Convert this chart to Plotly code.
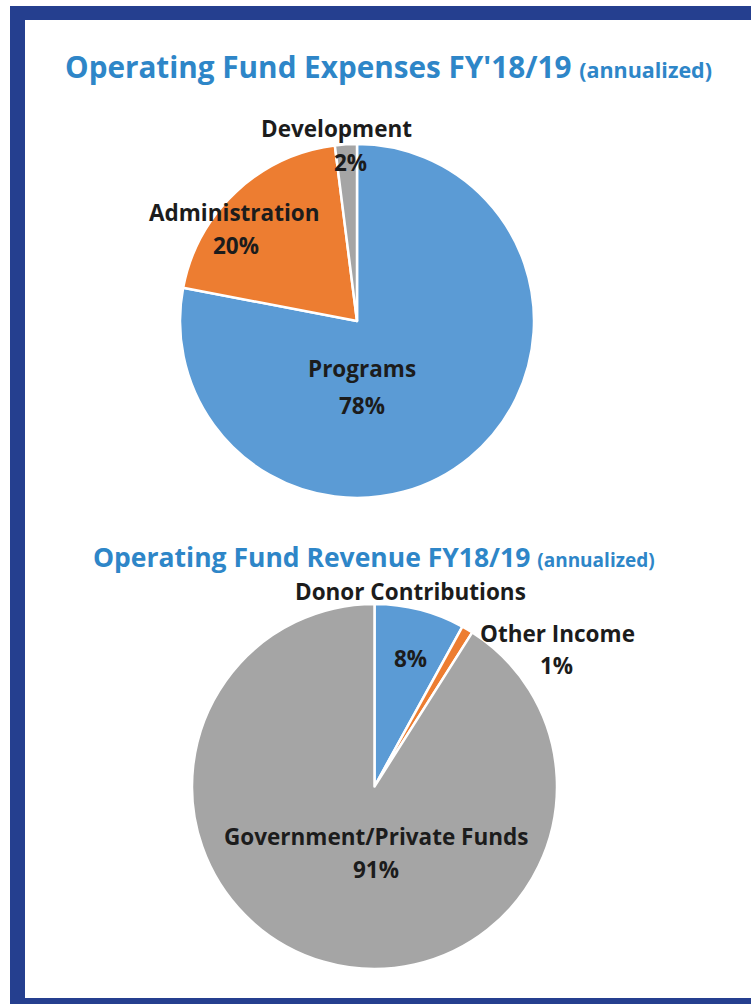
import plotly.graph_objects as go

W, H = 751, 1004

# ---- data ----
exp_labels = ["Programs", "Administration", "Development"]
exp_values = [78, 20, 2]
exp_colors = ["#5b9bd5", "#ed7d31", "#a5a5a5"]

rev_labels = ["Donor Contributions", "Other Income", "Government/Private Funds"]
rev_values = [8, 1, 91]
rev_colors = ["#5b9bd5", "#ed7d31", "#a5a5a5"]

title1_main = "Operating Fund Expenses FY'18/19"
title2_main = "Operating Fund Revenue FY18/19"
title_sub = "(annualized)"

# ---- helpers ----
def px_x(x):
    return x / W

def px_y(y):
    return 1 - y / H

fig = go.Figure()

fig.add_trace(go.Pie(
    labels=exp_labels, values=exp_values, sort=False, direction="clockwise",
    rotation=0, marker=dict(colors=exp_colors, line=dict(color="white", width=2.5)),
    textinfo="none", hoverinfo="label+percent", showlegend=False,
    domain=dict(x=[px_x(180), px_x(534)], y=[px_y(498), px_y(144)]),
))
fig.add_trace(go.Pie(
    labels=rev_labels, values=rev_values, sort=False, direction="clockwise",
    rotation=0, marker=dict(colors=rev_colors, line=dict(color="white", width=2.5)),
    textinfo="none", hoverinfo="label+percent", showlegend=False,
    domain=dict(x=[px_x(192), px_x(557)], y=[px_y(969), px_y(604)]),
))

# frame
shapes = [
    dict(type="rect", xref="paper", yref="paper", x0=px_x(10), x1=1.0,
         y0=0, y1=px_y(6), fillcolor="#253f8f", line=dict(width=0), layer="below"),
    dict(type="rect", xref="paper", yref="paper", x0=px_x(25), x1=1.0,
         y0=px_y(998), y1=px_y(20), fillcolor="white", line=dict(width=0), layer="below"),
]

FONT = "Open Sans"
lab_font = dict(family=FONT, size=22.5, color="#1c1c1c")

def ann(text, x, y, size=None, color=None):
    f = dict(lab_font)
    if size:
        f["size"] = size
    if color:
        f["color"] = color
    return dict(text=text, x=px_x(x), y=px_y(y), xref="paper", yref="paper",
                showarrow=False, xanchor="center", yanchor="middle", font=f)

def pct(v, vals):
    return f"{round(100 * v / sum(vals))}%"

annotations = [
    ann(f"<b>{title1_main} <span style='font-size:21.5px'>{title_sub}</span></b>", 388, 67,
        size=29.7, color="#2e86c8"),
    ann(f"<b>{title2_main} <span style='font-size:19px'>{title_sub}</span></b>", 374, 557,
        size=26.5, color="#2e86c8"),
    # expenses labels
    ann(f"<b>{exp_labels[2]}</b>", 336, 128),
    ann(f"<b>{pct(exp_values[2], exp_values)}</b>", 350, 163),
    ann(f"<b>{exp_labels[1]}</b>", 235, 212),
    ann(f"<b>{pct(exp_values[1], exp_values)}</b>", 236, 245),
    ann(f"<b>{exp_labels[0]}</b>", 362, 368),
    ann(f"<b>{pct(exp_values[0], exp_values)}</b>", 362, 405),
    # revenue labels
    ann(f"<b>{rev_labels[0]}</b>", 410, 591),
    ann(f"<b>{pct(rev_values[0], rev_values)}</b>", 410, 658),
    ann(f"<b>{rev_labels[1]}</b>", 557, 633),
    ann(f"<b>{pct(rev_values[1], rev_values)}</b>", 556, 665),
    ann(f"<b>{rev_labels[2]}</b>", 376, 836),
    ann(f"<b>{pct(rev_values[2], rev_values)}</b>", 376, 869),
]

fig.update_layout(
    width=W, height=H, margin=dict(l=0, r=0, t=0, b=0),
    paper_bgcolor="white", plot_bgcolor="white",
    shapes=shapes, annotations=annotations,
)

fig.write_html("out.html", config={"displayModeBar": False},
               post_script="document.body.style.margin='0';")
